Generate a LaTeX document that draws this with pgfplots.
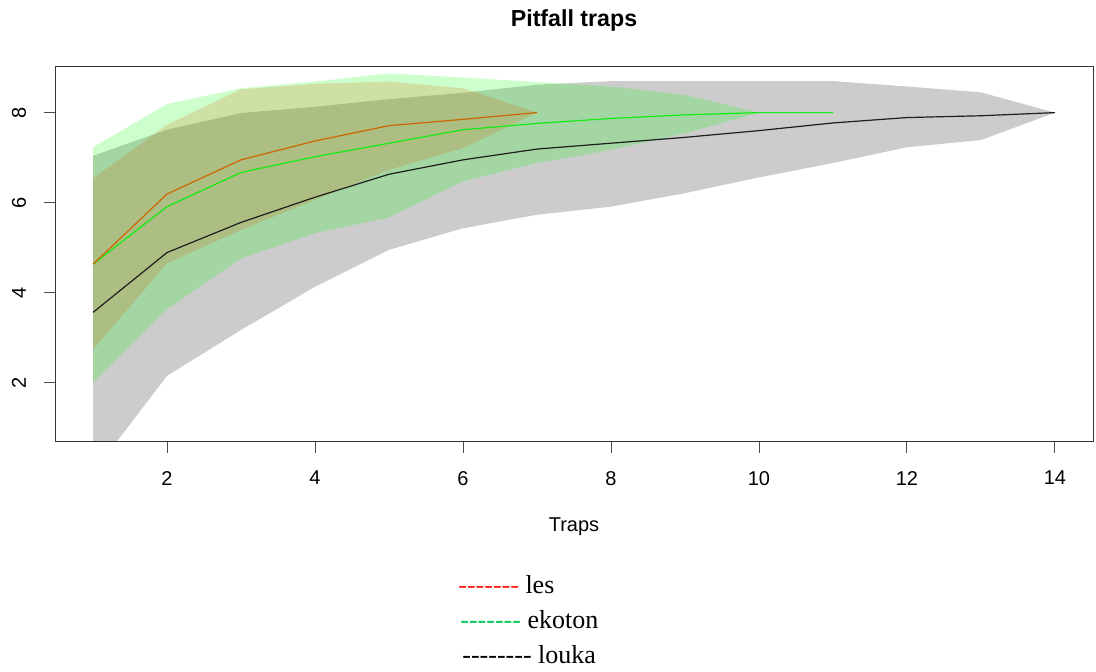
\documentclass[border=0pt]{standalone}
\usepackage{fontspec}
\setmainfont{Liberation Sans}
\newfontfamily\seriffont{Liberation Serif}
\usepackage{pgfplots}
\usepackage{pgfplotstable}
\usepgfplotslibrary{fillbetween}
\pgfplotsset{compat=1.18}
\definecolor{lesfill}{RGB}{213,99,0}
\definecolor{lesline}{RGB}{204,102,0}
\definecolor{ekfill}{RGB}{0,255,0}
\definecolor{ekline}{RGB}{20,235,20}
\definecolor{louline}{RGB}{30,30,30}
\definecolor{legred}{RGB}{255,30,30}
\definecolor{leggreen}{RGB}{0,200,90}

% x, mean, lower and upper bound of each curve
\pgfplotstableread{
x mean lo hi
1 4.63 2.73 6.54
2 6.19 4.65 7.73
3 6.95 5.39 8.52
4 7.37 6.06 8.64
5 7.71 6.73 8.69
6 7.85 7.21 8.54
7 8.00 8.00 8.00
}\les
\pgfplotstableread{
x mean lo hi
1 4.63 2.00 7.23
2 5.91 3.63 8.19
3 6.67 4.76 8.54
4 7.02 5.32 8.69
5 7.32 5.67 8.87
6 7.62 6.47 8.78
7 7.76 6.88 8.68
8 7.87 7.17 8.58
9 7.95 7.54 8.39
10 8.00 8.00 8.00
11 8.00 8.00 8.00
}\ekoton
\pgfplotstableread{
x mean lo hi
1 3.56 0.00 7.04
2 4.89 2.15 7.62
3 5.56 3.17 7.99
4 6.12 4.13 8.13
5 6.63 4.95 8.30
6 6.95 5.43 8.44
7 7.19 5.73 8.62
8 7.32 5.91 8.70
9 7.45 6.21 8.70
10 7.60 6.56 8.70
11 7.77 6.88 8.70
12 7.89 7.23 8.58
13 7.93 7.39 8.45
14 8.00 8.00 8.00
}\louka

\begin{document}
\begin{tikzpicture}
\path (0,0) rectangle (548pt,-336pt);
\begin{axis}[
    at={(27.5pt,-221pt)}, anchor=south west,
    width=519pt, height=187.65pt, scale only axis,
    xmin=0.486, xmax=14.514, ymin=0.68, ymax=9.02,
    xtick={2,4,...,14}, ytick={2,4,6,8},
    xtick pos=left, ytick pos=left,
    tick align=outside, major tick length=5.5pt,
    axis line style={black!80, line width=0.5pt},
    tick style={black!70, line width=0.5pt},
    /pgf/number format/assume math mode=true,
    ticklabel style={font=\fontsize{10}{12}\selectfont},
    xticklabel shift=5.5pt,
    yticklabel style={rotate=90, anchor=center},
    yticklabel shift=12.5pt,
]

\addplot[draw=none, name path=louhi] table[x=x, y=hi] {\louka};
\addplot[draw=none, name path=loulo] table[x=x, y=lo] {\louka};
\addplot[fill=black, fill opacity=0.2, draw=none] fill between[of=louhi and loulo];

\addplot[draw=none, name path=ekhi] table[x=x, y=hi] {\ekoton};
\addplot[draw=none, name path=eklo] table[x=x, y=lo] {\ekoton};
\addplot[fill=ekfill, fill opacity=0.2, draw=none] fill between[of=ekhi and eklo];

\addplot[draw=none, name path=leshi] table[x=x, y=hi] {\les};
\addplot[draw=none, name path=leslo] table[x=x, y=lo] {\les};
\addplot[fill=lesfill, fill opacity=0.2, draw=none] fill between[of=leshi and leslo];

\addplot[louline, line width=0.6pt] table[x=x, y=mean] {\louka};
\addplot[ekline, line width=0.6pt] table[x=x, y=mean] {\ekoton};
\addplot[lesline, line width=0.6pt] table[x=x, y=mean] {\les};

\end{axis}

\node[anchor=base, font=\bfseries\fontsize{11.6}{14}\selectfont] at (287pt,-13.5pt) {Pitfall traps};
\node[anchor=base, font=\fontsize{10}{12}\selectfont] at (287pt,-265.8pt) {Traps};

\begin{scope}[every node/.style={anchor=base west, inner sep=0pt, font=\seriffont\fontsize{13}{15}\selectfont}]
\node at (229pt,-296.5pt) {\textcolor{legred}{-{}-{}-{}-{}-{}-{}-} les};
\node at (230pt,-314pt) {\textcolor{leggreen}{-{}-{}-{}-{}-{}-{}-} ekoton};
\node at (231pt,-331.5pt) {\textcolor{black}{-{}-{}-{}-{}-{}-{}-{}-} louka};
\end{scope}
\end{tikzpicture}
\end{document}
